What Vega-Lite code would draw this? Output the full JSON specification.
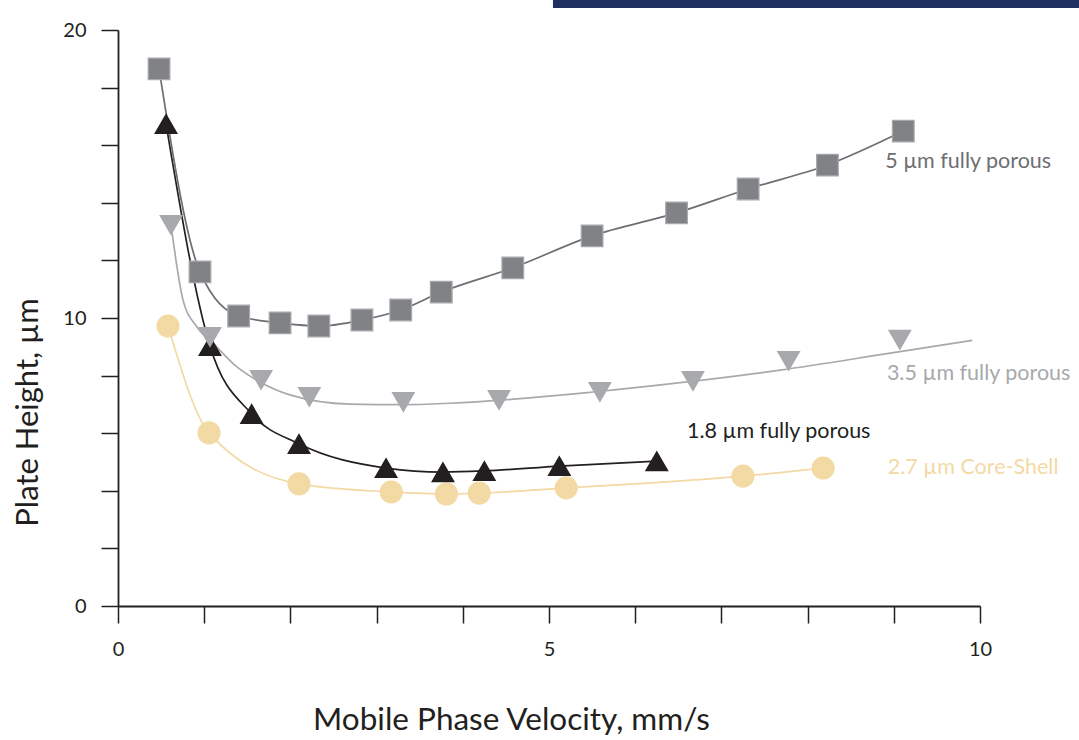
{
  "$schema": "https://vega.github.io/schema/vega-lite/v6.json",
  "autosize": "none",
  "width": 862,
  "height": 576,
  "padding": {"left": 118, "top": 30, "right": 99, "bottom": 134},
  "background": "white",
  "config": {
    "view": {"stroke": null},
    "font": "Lato",
    "axis": {"labelFont": "Lato", "titleFont": "Lato", "grid": false, "labelFlush": false}
  },
  "datasets": {
    "pts": [
      {"series": "2.7 µm", "kind": "marker", "v": 0.58, "h": 9.72},
      {"series": "2.7 µm", "kind": "marker", "v": 1.056, "h": 6.01},
      {"series": "2.7 µm", "kind": "marker", "v": 2.10, "h": 4.24},
      {"series": "2.7 µm", "kind": "marker", "v": 3.17, "h": 3.96},
      {"series": "2.7 µm", "kind": "marker", "v": 3.81, "h": 3.89},
      {"series": "2.7 µm", "kind": "marker", "v": 4.19, "h": 3.92},
      {"series": "2.7 µm", "kind": "marker", "v": 5.20, "h": 4.10},
      {"series": "2.7 µm", "kind": "marker", "v": 7.25, "h": 4.51},
      {"series": "2.7 µm", "kind": "marker", "v": 8.18, "h": 4.79},
      {"series": "1.8 µm", "kind": "marker", "v": 0.557, "h": 16.74},
      {"series": "1.8 µm", "kind": "marker", "v": 1.067, "h": 9.03},
      {"series": "1.8 µm", "kind": "marker", "v": 1.55, "h": 6.67},
      {"series": "1.8 µm", "kind": "marker", "v": 2.10, "h": 5.63},
      {"series": "1.8 µm", "kind": "marker", "v": 3.11, "h": 4.79},
      {"series": "1.8 µm", "kind": "marker", "v": 3.77, "h": 4.65},
      {"series": "1.8 µm", "kind": "marker", "v": 4.25, "h": 4.69},
      {"series": "1.8 µm", "kind": "marker", "v": 5.12, "h": 4.86},
      {"series": "1.8 µm", "kind": "marker", "v": 6.25, "h": 5.03},
      {"series": "3.5 µm", "kind": "marker", "v": 0.615, "h": 13.23},
      {"series": "3.5 µm", "kind": "marker", "v": 1.067, "h": 9.34},
      {"series": "3.5 µm", "kind": "marker", "v": 1.66, "h": 7.85},
      {"series": "3.5 µm", "kind": "marker", "v": 2.22, "h": 7.26},
      {"series": "3.5 µm", "kind": "marker", "v": 3.31, "h": 7.08},
      {"series": "3.5 µm", "kind": "marker", "v": 4.42, "h": 7.15},
      {"series": "3.5 µm", "kind": "marker", "v": 5.59, "h": 7.43},
      {"series": "3.5 µm", "kind": "marker", "v": 6.67, "h": 7.81},
      {"series": "3.5 µm", "kind": "marker", "v": 7.78, "h": 8.51},
      {"series": "3.5 µm", "kind": "marker", "v": 9.07, "h": 9.24},
      {"series": "3.5 µm", "kind": "curve", "v": 0.615, "h": 13.23},
      {"series": "3.5 µm", "kind": "curve", "v": 0.754, "h": 10.63},
      {"series": "3.5 µm", "kind": "curve", "v": 0.916, "h": 9.69},
      {"series": "3.5 µm", "kind": "curve", "v": 1.102, "h": 9.13},
      {"series": "3.5 µm", "kind": "curve", "v": 1.38, "h": 8.30},
      {"series": "3.5 µm", "kind": "curve", "v": 1.647, "h": 7.78},
      {"series": "3.5 µm", "kind": "curve", "v": 1.995, "h": 7.33},
      {"series": "3.5 µm", "kind": "curve", "v": 2.69, "h": 7.01},
      {"series": "3.5 µm", "kind": "curve", "v": 3.31, "h": 6.99},
      {"series": "3.5 µm", "kind": "curve", "v": 3.85, "h": 7.04},
      {"series": "3.5 µm", "kind": "curve", "v": 5.51, "h": 7.43},
      {"series": "3.5 µm", "kind": "curve", "v": 6.60, "h": 7.78},
      {"series": "3.5 µm", "kind": "curve", "v": 7.68, "h": 8.19},
      {"series": "3.5 µm", "kind": "curve", "v": 8.96, "h": 8.78},
      {"series": "3.5 µm", "kind": "curve", "v": 9.91, "h": 9.22},
      {"series": "5 µm", "kind": "marker", "v": 0.476, "h": 18.65},
      {"series": "5 µm", "kind": "marker", "v": 0.951, "h": 11.6},
      {"series": "5 µm", "kind": "marker", "v": 1.40, "h": 10.07},
      {"series": "5 µm", "kind": "marker", "v": 1.88, "h": 9.83},
      {"series": "5 µm", "kind": "marker", "v": 2.33, "h": 9.72},
      {"series": "5 µm", "kind": "marker", "v": 2.83, "h": 9.93},
      {"series": "5 µm", "kind": "marker", "v": 3.28, "h": 10.28},
      {"series": "5 µm", "kind": "marker", "v": 3.75, "h": 10.9},
      {"series": "5 µm", "kind": "marker", "v": 4.58, "h": 11.74},
      {"series": "5 µm", "kind": "marker", "v": 5.50, "h": 12.85},
      {"series": "5 µm", "kind": "marker", "v": 6.48, "h": 13.65},
      {"series": "5 µm", "kind": "marker", "v": 7.31, "h": 14.48},
      {"series": "5 µm", "kind": "marker", "v": 8.23, "h": 15.31},
      {"series": "5 µm", "kind": "marker", "v": 9.11, "h": 16.49}
    ],
    "labels": [
      {"series": "5 µm", "text": "5 µm fully porous", "v": 8.90, "h": 15.42},
      {"series": "3.5 µm", "text": "3.5 µm fully porous", "v": 8.92, "h": 8.06},
      {"series": "1.8 µm", "text": "1.8 µm fully porous", "v": 6.60, "h": 6.04},
      {"series": "2.7 µm", "text": "2.7 µm Core-Shell", "v": 8.93, "h": 4.79}
    ],
    "banner": [
      {"v1": 5.046, "v2": 11.2, "h1": 21.1, "h2": 20.76}
    ]
  },
  "layer": [
    {
      "data": {"name": "banner"},
      "mark": {"type": "rect", "color": "#1f2f5f", "clip": false},
      "encoding": {
        "x": {"field": "v1", "type": "quantitative", "scale": {"domain": [0, 10], "nice": false}},
        "x2": {"field": "v2"},
        "y": {"field": "h1", "type": "quantitative", "scale": {"domain": [0, 20], "nice": false}},
        "y2": {"field": "h2"}
      }
    },
    {
      "data": {"name": "pts"},
      "transform": [{"filter": "datum.series !== '3.5 µm' || datum.kind === 'curve'"}],
      "mark": {"type": "line", "interpolate": "monotone", "strokeWidth": 1.7},
      "encoding": {
        "x": {"field": "v", "type": "quantitative", "scale": {"domain": [0, 10], "nice": false},
          "axis": {
            "values": [0, 1, 2, 3, 4, 5, 6, 7, 8, 9, 10],
            "format": "d",
            "labelExpr": "datum.value % 5 === 0 ? datum.label : ''",
            "labelFlush": false,
            "tickSize": 17, "tickWidth": 1.5, "tickColor": "#231f20",
            "domainColor": "#231f20", "domainWidth": 1.8,
            "labelFontSize": 20, "labelColor": "#231f20", "labelPadding": 16,
            "title": "Mobile Phase Velocity, mm/s",
            "titleFontSize": 31.5, "titleFontWeight": "normal", "titleColor": "#231f20",
            "titleX": 393, "titleY": 114, "titleBaseline": "middle", "titleAlign": "center"
          }},
        "y": {"field": "h", "type": "quantitative", "scale": {"domain": [0, 20], "nice": false},
          "axis": {
            "values": [0, 2, 4, 6, 8, 10, 12, 14, 16, 18, 20],
            "labelExpr": "datum.value % 10 === 0 ? datum.label : ''",
            "labelFlush": false,
            "tickSize": 17, "tickWidth": 1.5, "tickColor": "#231f20",
            "domainColor": "#231f20", "domainWidth": 1.8,
            "labelFontSize": 20, "labelColor": "#231f20", "labelPadding": 15,
            "title": "Plate Height, µm",
            "titleFontSize": 31, "titleFontWeight": "normal", "titleColor": "#231f20",
            "titleAngle": -90, "titleX": -90, "titleY": 382, "titleBaseline": "middle", "titleAlign": "center"
          }},
        "color": {"field": "series", "type": "nominal", "legend": null,
          "scale": {"domain": ["5 µm", "3.5 µm", "1.8 µm", "2.7 µm"], "range": ["#6d6e71", "#a7a9ac", "#231f20", "#f3d9a4"]}},
        "detail": {"field": "series"}
      }
    },
    {
      "data": {"name": "pts"},
      "transform": [{"filter": "datum.kind === 'marker'"}],
      "mark": {"type": "point", "filled": true, "opacity": 1, "strokeWidth": 1.2},
      "encoding": {
        "x": {"field": "v", "type": "quantitative"},
        "y": {"field": "h", "type": "quantitative"},
        "shape": {"field": "series", "type": "nominal", "legend": null,
          "scale": {"domain": ["5 µm", "3.5 µm", "1.8 µm", "2.7 µm"], "range": ["square", "triangle-down", "triangle-up", "circle"]}},
        "fill": {"field": "series", "type": "nominal", "legend": null,
          "scale": {"domain": ["5 µm", "3.5 µm", "1.8 µm", "2.7 µm"], "range": ["#808285", "#a7a9ac", "#231f20", "#f3d9a4"]}},
        "stroke": {"field": "series", "type": "nominal", "legend": null,
          "scale": {"domain": ["5 µm", "3.5 µm", "1.8 µm", "2.7 µm"], "range": ["#a7a9ac", "#a7a9ac", "#231f20", "#f3d9a4"]}},
        "size": {"field": "series", "type": "nominal", "legend": null,
          "scale": {"domain": ["5 µm", "3.5 µm", "1.8 µm", "2.7 µm"], "range": [470, 480, 480, 330]}}
      }
    },
    {
      "data": {"name": "labels"},
      "mark": {"type": "text", "align": "left", "baseline": "middle", "fontSize": 21.5, "font": "Lato"},
      "encoding": {
        "x": {"field": "v", "type": "quantitative"},
        "y": {"field": "h", "type": "quantitative"},
        "text": {"field": "text"},
        "color": {"field": "series", "type": "nominal", "legend": null}
      }
    }
  ]
}
